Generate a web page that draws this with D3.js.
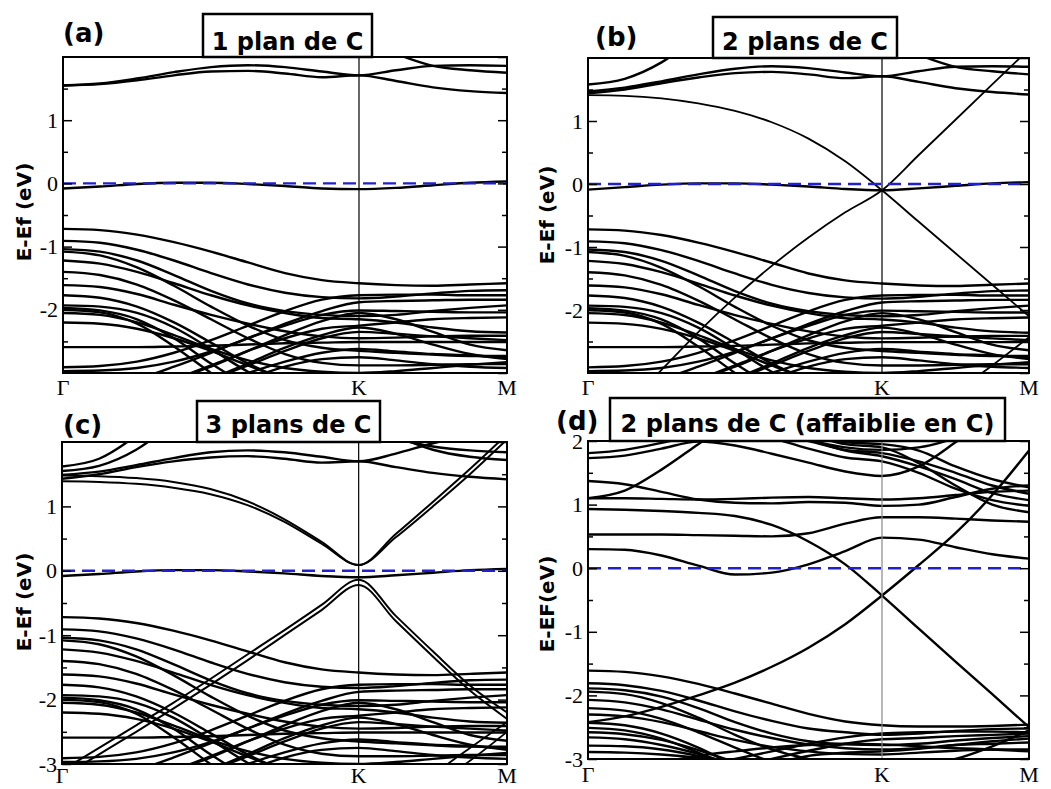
<!DOCTYPE html>
<html><head><meta charset="utf-8">
<script src="https://cdn.jsdelivr.net/npm/d3@7"></script>
<style>body{margin:0;background:#fff}svg{display:block}</style>
</head><body>
<svg id="chart" width="1051" height="789"></svg>
<script>
// ---------------- DATA ----------------
const kPoints = [0,0.125,0.25,0.375,0.5,0.625,0.75,0.875,1,1.125,1.25,1.375,1.5];
const kTickValues = [0,1,1.5];
const kTickLabels = ["Γ","K","M"];
const yTicksAB = [-2,-1,0,1];
const yTicksC = [-3,-2,-1,0,1];
const yTicksD = [-3,-2,-1,0,1,2];
const yMinorTicks = [-2.5,-1.5,-0.5,0.5,1.5];
const yMajorMarks = [-3,-2,-1,0,1,2];
const panelLetters = ["(a)","(b)","(c)","(d)"];
const panelTitles = ["1 plan de C","2 plans de C","3 plans de C","2 plans de C (affaiblie en C)"];
const yTitles = ["E-Ef (eV)","E-Ef (eV)","E-Ef (eV)","E-EF(eV)"];

// valence bands shared by panels a, b, c
const valenceABC = [
 [-0.72,-0.74,-0.81,-0.93,-1.08,-1.25,-1.42,-1.53,-1.58,-1.61,-1.62,-1.60,-1.58],
 [-0.91,-0.94,-1.05,-1.22,-1.42,-1.60,-1.73,-1.80,-1.82,-1.79,-1.74,-1.70,-1.69],
 [-1.04,-1.08,-1.22,-1.45,-1.70,-1.90,-2.02,-2.08,-2.10,-2.08,-2.02,-1.97,-1.93],
 [-1.08,-1.14,-1.33,-1.62,-1.95,-2.25,-2.48,-2.60,-2.65,-2.68,-2.71,-2.73,-2.73],
 [-1.22,-1.27,-1.40,-1.58,-1.77,-1.93,-2.05,-2.13,-2.15,-2.20,-2.28,-2.34,-2.36],
 [-1.40,-1.45,-1.60,-1.85,-2.15,-2.45,-2.70,-2.84,-2.88,-2.88,-2.87,-2.86,-2.86],
 [-1.61,-1.64,-1.75,-1.92,-2.08,-2.22,-2.34,-2.42,-2.45,-2.44,-2.42,-2.41,-2.41],
 [-1.77,-1.81,-1.95,-2.20,-2.52,-2.85,-3.10,-3.25,-3.30,-3.30,-3.30,-3.30,-3.30],
 [-1.93,-1.95,-2.05,-2.28,-2.62,-2.98,-3.25,-3.40,-3.45,-3.45,-3.45,-3.45,-3.45],
 [-1.97,-2.01,-2.15,-2.45,-2.85,-3.20,-3.45,-3.60,-3.65,-3.65,-3.65,-3.65,-3.65],
 [-2.00,-2.04,-2.22,-2.58,-3.00,-3.40,-3.70,-3.85,-3.90,-3.90,-3.90,-3.90,-3.90],
 [-2.05,-2.08,-2.20,-2.40,-2.62,-2.80,-2.92,-2.98,-3.00,-2.97,-2.92,-2.87,-2.83],
 [-2.20,-2.22,-2.30,-2.45,-2.65,-2.88,-3.10,-3.25,-3.30,-3.30,-3.30,-3.30,-3.30],
 [-2.59,-2.59,-2.59,-2.58,-2.57,-2.55,-2.53,-2.52,-2.51,-2.51,-2.51,-2.51,-2.51],
 [-2.91,-2.89,-2.82,-2.68,-2.48,-2.25,-2.02,-1.84,-1.77,-1.76,-1.76,-1.77,-1.77],
 [-2.97,-2.96,-2.92,-2.82,-2.66,-2.45,-2.22,-2.02,-1.88,-1.86,-1.85,-1.84,-1.84],
 [-3.30,-3.25,-3.10,-2.90,-2.68,-2.45,-2.25,-2.08,-2.01,-2.02,-2.03,-2.04,-2.04],
 [-3.50,-3.45,-3.30,-3.10,-2.88,-2.65,-2.45,-2.30,-2.25,-2.20,-2.15,-2.13,-2.12],
 [-3.60,-3.55,-3.45,-3.30,-3.10,-2.88,-2.65,-2.45,-2.35,-2.38,-2.42,-2.45,-2.48],
 [-3.80,-3.70,-3.60,-3.40,-3.20,-3.00,-2.82,-2.68,-2.62,-2.66,-2.70,-2.72,-2.76],
 [-3.50,-3.40,-3.30,-3.10,-2.90,-2.65,-2.40,-2.18,-2.05,-2.15,-2.35,-2.55,-2.64],
 [-4.00,-3.90,-3.70,-3.40,-3.10,-2.85,-2.60,-2.40,-2.28,-2.38,-2.55,-2.70,-2.78],
 [-4.20,-4.10,-3.90,-3.60,-3.35,-3.10,-2.90,-2.78,-2.75,-2.80,-2.86,-2.90,-2.92]
];

// panel a
const conductionA = [
 [1.55,1.58,1.66,1.76,1.84,1.87,1.84,1.77,1.71,1.79,1.86,1.87,1.86],
 [1.55,1.57,1.63,1.71,1.77,1.78,1.74,1.68,1.71,1.62,1.52,1.46,1.43],
 [2.90,2.90,2.85,2.80,2.70,2.60,2.50,2.40,2.30,2.05,1.86,1.79,1.75]
];
const flatBandA = [-0.08,-0.05,-0.01,0.01,0.01,-0.01,-0.04,-0.08,-0.09,-0.07,-0.03,0.01,0.03];

// panel b
const conductionB = [
 [1.58,1.67,1.93,2.35,2.80,3.20,3.50,3.70,3.80,3.80,3.80,3.80,3.80],
 [1.47,1.53,1.63,1.74,1.83,1.87,1.84,1.77,1.71,1.79,1.86,1.87,1.86],
 [1.44,1.50,1.60,1.69,1.76,1.78,1.74,1.68,1.71,1.62,1.52,1.46,1.42],
 [2.90,2.90,2.85,2.80,2.70,2.60,2.50,2.40,2.30,2.05,1.86,1.79,1.74]
];
const flatBandB = [-0.09,-0.05,-0.01,0.01,0.01,-0.01,-0.04,-0.08,-0.10,-0.07,-0.03,0.01,0.03];
const diracB = [
 [1.41,1.40,1.36,1.28,1.16,0.98,0.72,0.36,-0.10,-0.60,-1.10,-1.60,-2.10],
 [-3.90,-3.50,-2.95,-2.35,-1.80,-1.30,-0.85,-0.45,-0.10,0.46,1.02,1.58,2.14]
];
const extraValenceB = [
 [-4.60,-4.60,-4.50,-4.40,-4.30,-4.20,-4.10,-4.00,-3.90,-3.70,-3.30,-2.88,-2.43]
];

// panel c
const conductionC = [
 [1.62,1.74,2.10,2.60,3.20,3.60,3.80,3.90,3.90,3.90,3.90,3.90,3.90],
 [1.55,1.63,1.88,2.30,2.80,3.30,3.60,3.80,3.90,3.90,3.90,3.90,3.90],
 [1.49,1.54,1.64,1.75,1.84,1.87,1.84,1.77,1.70,1.82,1.98,2.10,2.15],
 [1.43,1.50,1.61,1.70,1.76,1.78,1.74,1.68,1.70,1.61,1.52,1.46,1.42],
 [2.90,2.90,2.85,2.70,2.60,2.50,2.40,2.30,2.20,2.05,1.93,1.87,1.84],
 [3.00,3.00,2.95,2.90,2.80,2.70,2.60,2.50,2.40,2.10,1.88,1.77,1.72]
];
const flatBandC = [-0.08,-0.05,-0.01,0.01,0.01,-0.01,-0.04,-0.08,-0.10,-0.07,-0.03,0.01,0.03];
const conesC = [
 [1.48,1.47,1.44,1.38,1.27,1.08,0.80,0.45,0.09,0.57,1.07,1.58,2.12],
 [1.39,1.38,1.35,1.29,1.19,1.02,0.76,0.42,0.09,0.52,1.00,1.50,2.04],
 [-3.10,-2.75,-2.40,-2.05,-1.68,-1.30,-0.92,-0.53,-0.14,-0.70,-1.25,-1.78,-2.20],
 [-3.20,-2.85,-2.50,-2.14,-1.77,-1.39,-1.00,-0.61,-0.22,-0.78,-1.33,-1.86,-2.30]
];
const extraValenceC = [
 [-4.50,-4.40,-4.30,-4.20,-4.10,-4.00,-3.90,-3.75,-3.60,-3.40,-3.15,-2.75,-2.35],
 [-4.60,-4.50,-4.40,-4.30,-4.20,-4.10,-4.00,-3.90,-3.80,-3.60,-3.35,-2.95,-2.50]
];

// panel d
const conductionD = [
 [1.10,1.22,1.55,1.95,2.35,2.70,2.90,3.00,3.00,3.00,3.00,3.00,3.00],
 [1.81,1.86,1.97,2.10,2.20,2.20,2.10,1.98,1.95,1.85,1.60,1.40,1.27],
 [1.73,1.77,1.88,1.99,1.93,1.80,1.66,1.52,1.45,1.60,1.98,2.40,2.80],
 [2.50,2.50,2.40,2.30,2.20,2.10,2.00,1.86,1.81,1.68,1.50,1.30,1.17],
 [2.60,2.60,2.50,2.40,2.30,2.15,2.02,1.85,1.76,1.60,1.40,1.18,1.07],
 [2.40,2.40,2.35,2.30,2.20,2.05,1.88,1.74,1.68,1.50,1.25,1.07,0.98],
 [2.70,2.70,2.60,2.50,2.40,2.25,2.10,1.95,1.90,1.65,1.30,1.00,0.88],
 [3.00,3.00,2.80,2.60,2.40,2.20,2.02,1.90,1.86,1.90,2.05,2.30,2.50],
 [1.37,1.32,1.20,1.08,1.03,1.02,1.04,1.03,0.98,1.00,1.12,1.25,1.30],
 [1.10,1.10,1.09,1.08,1.09,1.11,1.12,1.10,1.08,1.10,1.15,1.20,1.22],
 [0.93,0.92,0.90,0.87,0.82,0.68,0.42,0.06,-0.43,-0.95,-1.47,-1.98,-2.50],
 [0.53,0.53,0.53,0.52,0.51,0.50,0.55,0.70,0.80,0.80,0.78,0.75,0.73],
 [0.30,0.29,0.20,0.04,-0.10,-0.07,0.06,0.27,0.48,0.45,0.33,0.22,0.15],
 [-2.42,-2.33,-2.18,-2.00,-1.80,-1.55,-1.25,-0.88,-0.43,0.05,0.55,1.15,1.85]
];
const valenceD = [
 [-1.61,-1.63,-1.70,-1.82,-1.97,-2.13,-2.29,-2.41,-2.47,-2.49,-2.49,-2.48,-2.46],
 [-1.81,-1.84,-1.93,-2.08,-2.25,-2.40,-2.52,-2.58,-2.62,-2.60,-2.56,-2.53,-2.52],
 [-1.89,-1.92,-2.02,-2.20,-2.42,-2.60,-2.72,-2.77,-2.78,-2.76,-2.71,-2.67,-2.64],
 [-1.94,-1.98,-2.12,-2.35,-2.62,-2.85,-3.00,-3.08,-3.10,-3.08,-3.05,-3.02,-3.00],
 [-2.07,-2.11,-2.22,-2.38,-2.54,-2.67,-2.77,-2.83,-2.85,-2.83,-2.78,-2.76,-2.74],
 [-2.20,-2.24,-2.37,-2.58,-2.82,-3.05,-3.20,-3.28,-3.30,-3.30,-3.30,-3.30,-3.30],
 [-2.30,-2.33,-2.42,-2.56,-2.70,-2.81,-2.88,-2.92,-2.93,-2.90,-2.87,-2.85,-2.85],
 [-2.43,-2.47,-2.60,-2.82,-3.10,-3.35,-3.50,-3.55,-3.55,-3.55,-3.55,-3.55,-3.55],
 [-2.51,-2.55,-2.68,-2.90,-3.15,-3.40,-3.55,-3.60,-3.60,-3.60,-3.60,-3.60,-3.60],
 [-2.58,-2.61,-2.70,-2.86,-3.05,-3.25,-3.40,-3.45,-3.45,-3.45,-3.45,-3.45,-3.45],
 [-2.66,-2.69,-2.78,-2.92,-3.10,-3.30,-3.45,-3.50,-3.50,-3.50,-3.50,-3.50,-3.50],
 [-2.79,-2.80,-2.85,-2.95,-3.08,-3.20,-3.30,-3.35,-3.35,-3.35,-3.35,-3.35,-3.35],
 [-2.89,-2.90,-2.93,-2.98,-3.05,-3.12,-3.20,-3.25,-3.25,-3.25,-3.25,-3.25,-3.25],
 [-3.40,-3.35,-3.25,-3.12,-3.00,-2.88,-2.76,-2.66,-2.60,-2.58,-2.57,-2.57,-2.58],
 [-3.60,-3.55,-3.45,-3.30,-3.15,-3.00,-2.87,-2.76,-2.69,-2.67,-2.64,-2.62,-2.60],
 [-3.80,-3.70,-3.58,-3.42,-3.25,-3.08,-2.95,-2.90,-2.88,-2.84,-2.78,-2.72,-2.68],
 [-4.00,-3.90,-3.80,-3.70,-3.60,-3.50,-3.40,-3.30,-3.20,-3.12,-3.00,-2.80,-2.55],
 [-3.20,-3.15,-3.05,-2.95,-2.88,-2.82,-2.78,-2.76,-2.77,-2.80,-2.83,-2.85,-2.88]
];

// ---------------- LAYOUT ----------------
const panels = [
 {left:63, right:507, top:57, bottom:373, yTicks:yTicksAB, kColor:"#000",
  groups:[{bands:valenceABC,w:2.4},{bands:conductionA,w:2.4},{bands:[flatBandA],w:2.4}],
  letter:{x:63,y:42}, box:{x:203,y:14,w:169,h:43,ty:50}, yTitle:{x:24,y:212}, kLabelY:395},
 {left:588, right:1029, top:58, bottom:373, yTicks:yTicksAB, kColor:"#000",
  groups:[{bands:valenceABC,w:2.4},{bands:extraValenceB,w:1.8},{bands:conductionB,w:2.4},{bands:[flatBandB],w:2.4},{bands:diracB,w:1.8}],
  letter:{x:595,y:46}, box:{x:713,y:17,w:184,h:41,ty:50}, yTitle:{x:547,y:215}, kLabelY:395},
 {left:62, right:507, top:442, bottom:764, yTicks:yTicksC, kColor:"#000",
  groups:[{bands:valenceABC,w:2.4},{bands:extraValenceC,w:1.8},{bands:conductionC,w:2.4},{bands:[flatBandC],w:2.4},{bands:conesC,w:2.0}],
  letter:{x:63,y:434}, box:{x:197,y:401,w:183,h:41,ty:433}, yTitle:{x:24,y:602}, kLabelY:783},
 {left:588, right:1029, top:441, bottom:759, yTicks:yTicksD, kColor:"#888",
  groups:[{bands:valenceD,w:2.4},{bands:conductionD,w:2.4}],
  letter:{x:556,y:430}, box:{x:610,y:398,w:395,h:43,ty:432}, yTitle:{x:547,y:604}, kLabelY:782}
];

const svg = d3.select("#chart");
const serif = "'Liberation Serif','Times New Roman',serif";
const sansBold = "'DejaVu Sans',Verdana,sans-serif";

panels.forEach((p,i)=>{
  const x = d3.scaleLinear().domain([0,1.5]).range([p.left,p.right]);
  const y = d3.scaleLinear().domain([-3,2]).range([p.bottom,p.top]);
  const g = svg.append("g");
  const clipId = "clip"+i;
  svg.append("clipPath").attr("id",clipId).append("rect")
    .attr("x",p.left).attr("y",p.top).attr("width",p.right-p.left).attr("height",p.bottom-p.top);
  const line = d3.line().x((d,j)=>x(kPoints[j])).y(d=>y(d)).curve(d3.curveMonotoneX);
  const bg = g.append("g").attr("clip-path",`url(#${clipId})`);
  p.groups.forEach(gr=>{
    bg.append("g").selectAll("path").data(gr.bands).join("path")
      .attr("d",line).attr("fill","none").attr("stroke","#000")
      .attr("stroke-width",gr.w).attr("stroke-linejoin","round");
  });
  // K line
  g.append("line").attr("x1",x(1)).attr("x2",x(1)).attr("y1",p.top).attr("y2",p.bottom)
    .attr("stroke",p.kColor).attr("stroke-width",1.2);
  // Fermi level
  g.append("line").attr("x1",p.left).attr("x2",p.right).attr("y1",y(0)).attr("y2",y(0))
    .attr("stroke","#2020d0").attr("stroke-width",2.4).attr("stroke-dasharray","13,7");
  // frame
  g.append("rect").attr("x",p.left).attr("y",p.top).attr("width",p.right-p.left).attr("height",p.bottom-p.top)
    .attr("fill","none").attr("stroke","#000").attr("stroke-width",2);
  // y axis left: labelled major ticks
  const axL = g.append("g").attr("transform",`translate(${p.left},0)`)
    .call(d3.axisLeft(y).tickValues(p.yTicks).tickSize(-9).tickPadding(5).tickFormat(d=>String(d)));
  axL.select(".domain").remove();
  axL.selectAll("line").attr("stroke-width",1.5);
  axL.selectAll("text").style("font-family",serif).style("font-size","22px").attr("fill","#000");
  // minor ticks left
  const axLm = g.append("g").attr("transform",`translate(${p.left},0)`)
    .call(d3.axisLeft(y).tickValues(yMinorTicks).tickSize(-5).tickFormat(""));
  axLm.select(".domain").remove(); axLm.selectAll("line").attr("stroke-width",1.5);
  // right ticks
  const axR = g.append("g").attr("transform",`translate(${p.right},0)`)
    .call(d3.axisRight(y).tickValues(yMajorMarks).tickSize(-9).tickFormat(""));
  axR.select(".domain").remove(); axR.selectAll("line").attr("stroke-width",1.5);
  const axRm = g.append("g").attr("transform",`translate(${p.right},0)`)
    .call(d3.axisRight(y).tickValues(yMinorTicks).tickSize(-5).tickFormat(""));
  axRm.select(".domain").remove(); axRm.selectAll("line").attr("stroke-width",1.5);
  // k labels
  g.selectAll("text.k").data(kTickValues).join("text").attr("class","k")
    .attr("x",d=>x(d)).attr("y",p.kLabelY).attr("text-anchor","middle")
    .style("font-family",serif).style("font-size","22px").attr("fill","#000")
    .text((d,j)=>kTickLabels[j]);
  // y title
  g.append("text").attr("transform",`translate(${p.yTitle.x},${p.yTitle.y}) rotate(-90)`)
    .attr("text-anchor","middle").attr("dominant-baseline","central")
    .style("font-family",sansBold).style("font-weight","bold").style("font-size","20px")
    .text(yTitles[i]);
  // panel letter
  g.append("text").attr("x",p.letter.x).attr("y",p.letter.y)
    .style("font-family",sansBold).style("font-weight","bold").style("font-size","26px")
    .text(panelLetters[i]);
  // title box
  g.append("rect").attr("x",p.box.x).attr("y",p.box.y).attr("width",p.box.w).attr("height",p.box.h)
    .attr("fill","#fff").attr("stroke","#000").attr("stroke-width",2.5);
  g.append("text").attr("x",p.box.x+p.box.w/2).attr("y",p.box.ty).attr("text-anchor","middle")
    .style("font-family",sansBold).style("font-weight","bold").style("font-size","24px")
    .text(panelTitles[i]);
});
</script>
</body></html>
